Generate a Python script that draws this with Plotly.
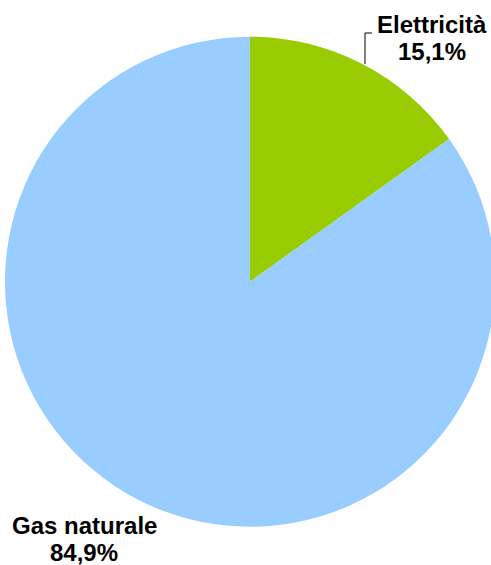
import plotly.graph_objects as go

labels = ["Elettricità", "Gas naturale"]
values = [15.1, 84.9]
colors = ["#99CC00", "#99CCFF"]

W, H = 500, 565          # figure slightly wider than the 491px window; overflow is hidden
cx, cy, r = 250, 281.7, 245  # pixel geometry of the pie

def px(x):
    return x / W

def py(y):
    return (H - y) / H

fig = go.Figure(go.Pie(
    labels=labels, values=values, sort=False, direction="clockwise", rotation=0,
    marker=dict(colors=colors, line=dict(width=0)),
    textinfo="none", hoverinfo="label+percent",
    domain=dict(x=[px(cx - r), px(cx + r)], y=[py(cy + r), py(cy - r)]),
))

# label placement (pixel centres of line 1 and line 2)
ann_pos = [(431.5, 24.5, 51.5), (84, 525.5, 552.5)]
annotations = []
font = dict(family="Liberation Sans, Arial", size=24, color="black")
for (x, y1, y2), lbl, v in zip(ann_pos, labels, values):
    pct = f"{v:.1f}%".replace(".", ",")
    for y, t in ((y1, lbl), (y2, pct)):
        annotations.append(dict(x=px(x), y=py(y), xref="paper", yref="paper",
                                text=f"<b>{t}</b>", showarrow=False,
                                xanchor="center", yanchor="middle", font=font))

fig.update_layout(
    width=W, height=H, margin=dict(l=0, r=0, t=0, b=0),
    paper_bgcolor="white", plot_bgcolor="white", showlegend=False,
    annotations=annotations,
    shapes=[dict(type="path", xref="paper", yref="paper",
                 path=f"M {px(365)},{py(64)} L {px(365)},{py(33)} L {px(372)},{py(33)}",
                 line=dict(color="black", width=1))],
)
fig.write_html("out.html", config={"displayModeBar": False},
               post_script="document.body.style.margin='0';document.body.style.overflow='hidden';")
